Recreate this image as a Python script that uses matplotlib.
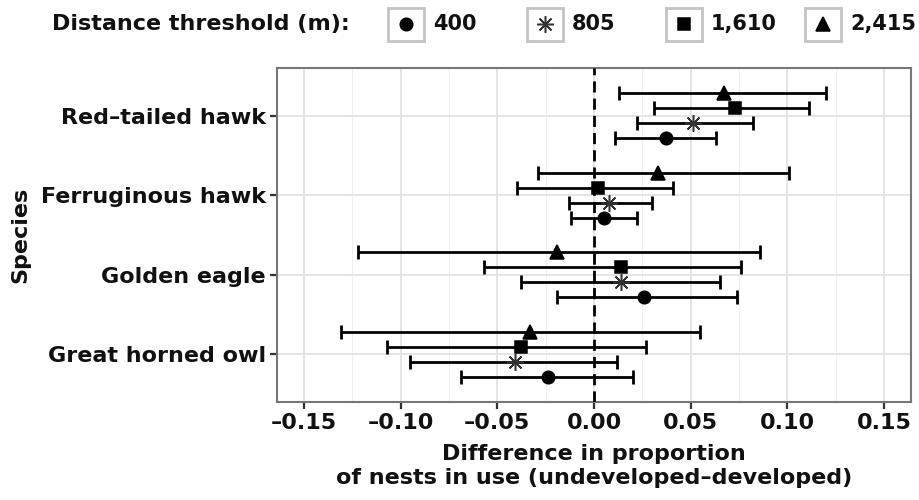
import matplotlib
matplotlib.use("Agg")
import matplotlib.pyplot as plt
from matplotlib.lines import Line2D
from matplotlib.patches import Rectangle
from matplotlib.ticker import FixedLocator, FuncFormatter
import numpy as np

plt.rcParams['font.family'] = ['DejaVu Sans']
plt.rcParams['font.weight'] = 'bold'

# Species from bottom to top
species = ["Great horned owl", "Golden eagle", "Ferruginous hawk", "Red–tailed hawk"]
thresholds = ["400", "805", "1,610", "2,415"]

# Estimates and interval ends for each distance threshold (same species order)
est_400 = [-0.024, 0.026, 0.005, 0.037]
lo_400 = [-0.069, -0.019, -0.012, 0.011]
hi_400 = [0.020, 0.074, 0.022, 0.063]

est_805 = [-0.041, 0.014, 0.008, 0.051]
lo_805 = [-0.095, -0.038, -0.013, 0.022]
hi_805 = [0.012, 0.065, 0.030, 0.082]

est_1610 = [-0.038, 0.014, 0.002, 0.073]
lo_1610 = [-0.107, -0.057, -0.040, 0.031]
hi_1610 = [0.027, 0.076, 0.041, 0.111]

est_2415 = [-0.033, -0.019, 0.033, 0.067]
lo_2415 = [-0.131, -0.122, -0.029, 0.013]
hi_2415 = [0.055, 0.086, 0.101, 0.120]

x_ticks = [-0.15, -0.10, -0.05, 0.00, 0.05, 0.10, 0.15]

series = [
    (est_400, lo_400, hi_400),
    (est_805, lo_805, hi_805),
    (est_1610, lo_1610, hi_1610),
    (est_2415, lo_2415, hi_2415),
]
markers = ['o', (8, 2, 0), 's', '^']
msizes = [9, 12, 9, 10]
mcolors = ['black', '#333333', 'black', 'black']
dodge = [-0.28, -0.094, 0.094, 0.28]

W, H = 920, 500
fig = plt.figure(figsize=(9.2, 5), dpi=100)
ax = fig.add_axes([277 / W, 1 - 402 / H, (911 - 277) / W, (402 - 68) / H])

base = np.arange(1, len(species) + 1)
for (est, lo, hi), mk, ms, mc, dy in zip(series, markers, msizes, mcolors, dodge):
    est = np.array(est)
    lo = np.array(lo)
    hi = np.array(hi)
    y = base + dy
    ax.errorbar(est, y, xerr=[est - lo, hi - est], fmt='none', ecolor='black',
                elinewidth=2, capsize=5, capthick=2, zorder=3)
    ax.plot(est, y, linestyle='none', marker=mk, markersize=ms,
            color=mc, markeredgewidth=1.1, zorder=5)

ax.axvline(0, color='black', lw=2, ls=(0, (4, 2.2)), zorder=4)

ax.set_xlim(-0.164, 0.164)
ax.set_ylim(0.4, len(species) + 0.6)

ax.xaxis.set_major_locator(FixedLocator(x_ticks))
ax.xaxis.set_minor_locator(FixedLocator([t + 0.025 for t in [-0.2] + x_ticks]))
ax.xaxis.set_major_formatter(FuncFormatter(lambda v, p: f"{v:.2f}".replace("-", "–")))
ax.set_yticks(base)
ax.set_yticklabels(species)

ax.grid(which='major', color='#e3e3e3', lw=1.3, zorder=0)
ax.grid(which='minor', axis='x', color='#f0f0f0', lw=0.8, zorder=0)
ax.set_axisbelow(True)
ax.tick_params(which='major', direction='out', length=5, width=1.6, color='#333333',
               labelsize=16, labelcolor='#111111', pad=3)
ax.tick_params(which='minor', length=0)
for lab in ax.get_xticklabels() + ax.get_yticklabels():
    lab.set_fontweight('bold')
for s in ax.spines.values():
    s.set_color('#777777')
    s.set_linewidth(1.5)

fig.text(20 / W, 1 - 235 / H, "Species", rotation=90, ha='center', va='center',
         fontsize=16, fontweight='bold', color='#111111')
fig.text(594 / W, 1 - 466 / H, "Difference in proportion\nof nests in use (undeveloped–developed)",
         ha='center', va='center', fontsize=16, fontweight='bold', linespacing=1.25,
         color='#111111')

# legend row at the top
ly = 1 - 24 / H
fig.text(350 / W, ly, "Distance threshold (m):", ha='right', va='center',
         fontsize=16, fontweight='bold', color='#111111')
box_left = [388, 527, 666, 805]
for bx, lab, mk, ms, mc in zip(box_left, thresholds, markers, msizes, mcolors):
    fig.add_artist(Rectangle((bx / W, 1 - 41 / H), 36 / W, 33 / H, transform=fig.transFigure,
                             facecolor='white', edgecolor='#c4c4c4', lw=2))
    fig.add_artist(Line2D([(bx + 18) / W], [ly], transform=fig.transFigure, linestyle='none',
                          marker=mk, markersize=ms, color=mc, markeredgewidth=1.1))
    fig.text((bx + 45) / W, ly, lab, ha='left', va='center', fontsize=15, fontweight='bold',
             color='#111111')

fig.savefig("out.png", dpi=100)
